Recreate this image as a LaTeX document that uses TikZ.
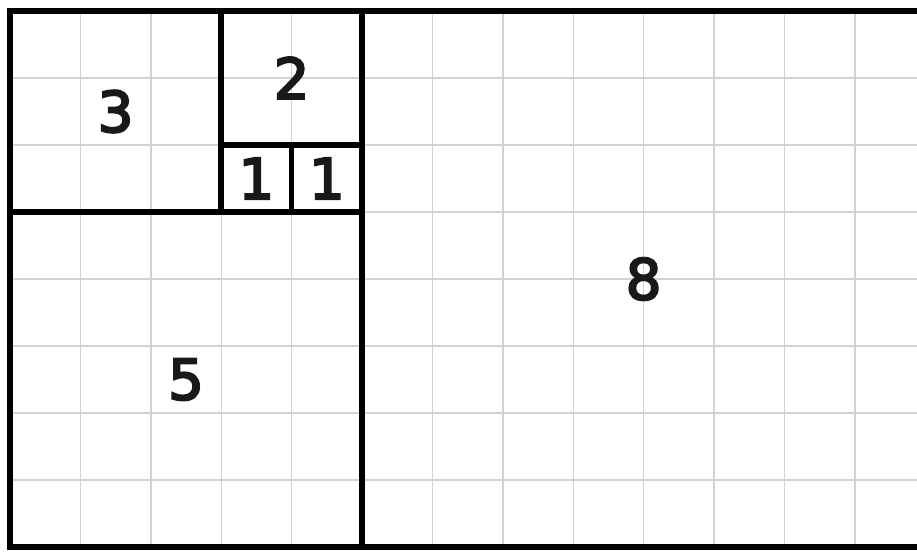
\documentclass[tikz,border=0pt]{standalone}
\usepackage{fontspec}
\setmainfont{DejaVu Sans}
\newfontfamily\numfont[FakeBold=4]{DejaVu Sans}
\begin{document}
\begin{tikzpicture}[x=70.4pt,y=-67pt,
  gridline/.style={gray!35,line width=1.4pt},
  border/.style={black,line width=5.5pt,line cap=rect},
  numlabel/.style={font=\numfont\fontsize{56}{60}\selectfont,inner sep=0pt,text=black!90}]
\useasboundingbox (-10pt,11pt) rectangle (907pt,-541pt);
\begin{scope}
\clip (-10pt,11pt) rectangle (907pt,-541pt);
\foreach \i in {1,...,12} \draw[gridline] (\i,0) -- (\i,8);
\foreach \j in {1,...,7} \draw[gridline] (0,\j) -- (13,\j);
% squares
\draw[border] (0,0) rectangle (3,3);
\draw[border] (3,0) rectangle (5,2);
\draw[border] (3,2) rectangle (4,3);
\draw[border] (4,2) rectangle (5,3);
\draw[border] (0,3) rectangle (5,8);
\draw[border] (5,0) rectangle (13,8);
\end{scope}
\node[numlabel] (n3) at (1.5,1.5) {3};
\node[numlabel] (n2) at (4,1) {2};
\node[numlabel] (n1a) at (3.5,2.5) {1};
\node[numlabel] (n1b) at (4.5,2.5) {1};
\node[numlabel] (n5) at (2.5,5.5) {5};
\node[numlabel] (n8) at (9,4) {8};
\end{tikzpicture}
\end{document}
